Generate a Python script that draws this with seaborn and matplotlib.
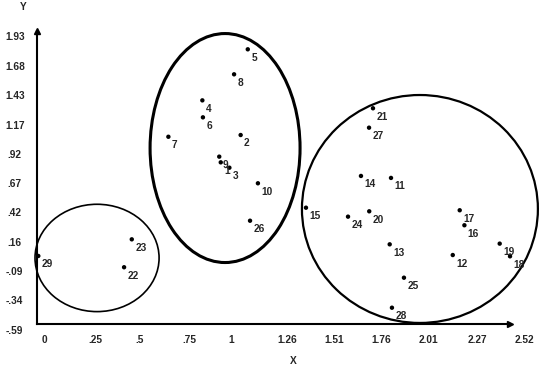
import matplotlib
matplotlib.use("Agg")
import matplotlib.pyplot as plt
from matplotlib.patches import Ellipse
import pandas as pd
import seaborn as sns

# point ids and coordinates
ids = list(range(1, 30))
xs = [0.979, 1.085, 1.025, 0.881, 1.123, 0.884, 0.700, 1.050, 0.971, 1.177,
      1.886, 2.215, 1.879, 1.726, 1.433, 2.277, 2.252, 2.520, 2.465, 1.770,
      1.790, 0.464, 0.505, 1.657, 1.955, 1.135, 1.769, 1.891, 0.007]
ys = [0.800, 1.035, 0.754, 1.333, 1.772, 1.187, 1.020, 1.557, 0.849, 0.620,
      0.666, 0.003, 0.095, 0.683, 0.410, 0.259, 0.388, -0.008, 0.101, 0.379,
      1.265, -0.102, 0.138, 0.333, -0.192, 0.298, 1.098, -0.450, -0.005]

# cluster ellipses (center x, center y, width, height)
clu_x = [0.320, 1.002, 2.040]
clu_y = [-0.022, 0.923, 0.399]
clu_w = [0.661, 0.799, 1.257]
clu_h = [0.923, 1.969, 1.960]
clu_lw = [1.2, 2.2, 1.6]

xticks = [0, 0.25, 0.5, 0.75, 1, 1.26, 1.51, 1.76, 2.01, 2.27, 2.52]
xtick_labels = ["0", ".25", ".5", ".75", "1", "1.26", "1.51", "1.76", "2.01", "2.27", "2.52"]
yticks = [-0.59, -0.34, -0.09, 0.16, 0.42, 0.67, 0.92, 1.17, 1.43, 1.68, 1.93]
ytick_labels = ["-.59", "-.34", "-.09", ".16", ".42", ".67", ".92", "1.17", "1.43", "1.68", "1.93"]

df = pd.DataFrame({"id": ids, "x": xs, "y": ys})

sns.set_style("white")
plt.rcParams['font.family'] = ['Liberation Sans', 'DejaVu Sans']

fig = plt.figure(figsize=(5.5, 3.69), dpi=100)
ax = fig.add_axes([0, 0, 1, 1])
ax.set_xlim(-0.197, 2.733)
ax.set_ylim(-0.977, 2.196)

sns.scatterplot(data=df, x="x", y="y", ax=ax, color="black", s=10,
                edgecolor="none", legend=False, zorder=3)
for i, x, y in zip(ids, xs, ys):
    ax.annotate(str(i), (x, y), xytext=(2.5, -2.5),
                textcoords="offset points", ha="left", va="top",
                fontsize=7.3, fontweight="bold")

for cx, cy, w, h, lw in zip(clu_x, clu_y, clu_w, clu_h, clu_lw):
    ax.add_patch(Ellipse((cx, cy), w, h, fill=False, edgecolor="black", lw=lw))

# axes drawn as arrows through the origin
for side in ["top", "right"]:
    ax.spines[side].set_visible(False)
ax.spines["left"].set_position(("data", 0))
ax.spines["left"].set_bounds(-0.59, 1.93)
ax.spines["bottom"].set_position(("data", -0.59))
ax.spines["bottom"].set_bounds(0, 2.52)
for side in ["left", "bottom"]:
    ax.spines[side].set_linewidth(1.5)
    ax.spines[side].set_color("black")
ax.set_xticks(xticks[1:])
ax.set_yticks(yticks[1:])
ax.set_xticklabels([])
ax.set_yticklabels([])
ax.tick_params(direction="inout", length=5.5, width=1, colors="black")
ax.plot(2.52, -0.59, marker=">", ms=5, color="black", clip_on=False)
ax.plot(0, 1.93, marker="^", ms=5, color="black", clip_on=False)

for v, lbl in zip(xticks, xtick_labels):
    ax.annotate(lbl, (v, -0.59), xytext=(3, -11.5), textcoords="offset points",
                ha="left", va="center", fontsize=7.3, fontweight="bold")
for v, lbl in zip(yticks, ytick_labels):
    ax.annotate(lbl, (0, v), xytext=(-16, -4.7), textcoords="offset points",
                ha="center", va="center", fontsize=7.3, fontweight="bold")

ax.set_xlabel("")
ax.set_ylabel("")
ax.text(1.364, -0.908, "X", ha="center", va="center", fontsize=7.3, fontweight="bold")
ax.text(-0.075, 2.136, "Y", ha="center", va="center", fontsize=7.3, fontweight="bold")

fig.savefig("out.png", dpi=100)
